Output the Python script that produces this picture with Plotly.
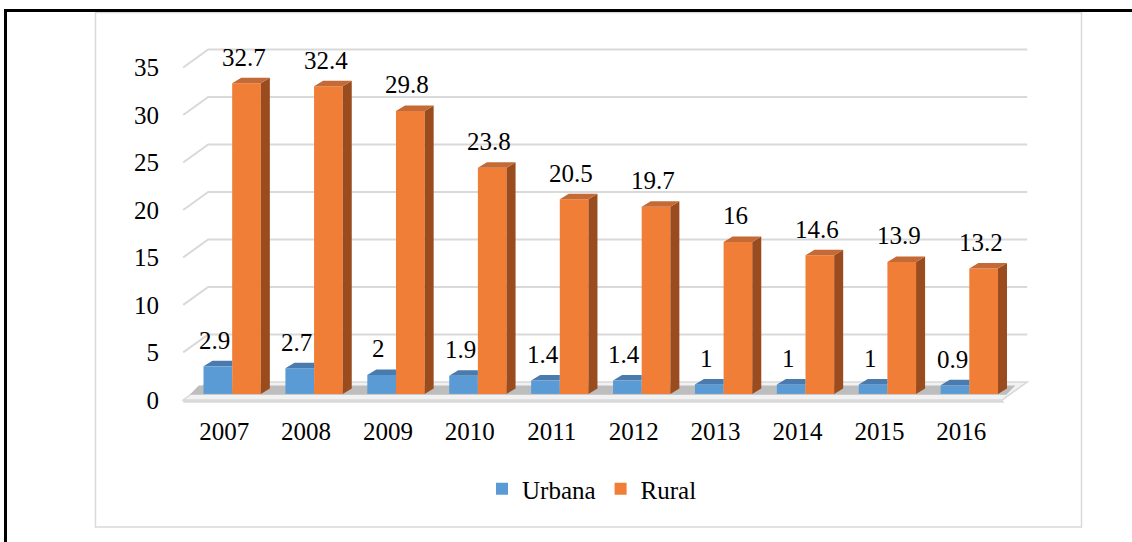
import plotly.graph_objects as go

# ---------------- data ----------------
years = ["2007", "2008", "2009", "2010", "2011", "2012", "2013", "2014", "2015", "2016"]
urbana = [2.9, 2.7, 2.0, 1.9, 1.4, 1.4, 1.0, 1.0, 1.0, 0.9]
rural = [32.7, 32.4, 29.8, 23.8, 20.5, 19.7, 16.0, 14.6, 13.9, 13.2]
y_ticks = [0, 5, 10, 15, 20, 25, 30, 35]
series_names = ["Urbana", "Rural"]

# ---------------- layout geometry (styles) ----------------
W, H = 1132, 542
L, R, T, B = 175, 97, 39, 135
XR = [-0.6, 9.9]
YR = [-0.75, 38]
BAR_W = 0.35
FRONT_DX, BASE = 0.098, 0.63      # bar front plane offset from front wall
DEPTH_DX, DEPTH_DY = 0.11, 0.58   # bar depth
WALL_DX, WALL_DY = 0.305, 1.895   # back wall offset
LABEL_DX = -0.035

FONT = "Liberation Serif"
C_BLUE, C_BLUE_TOP = "#5B9BD5", "#4A7BAF"
C_OR, C_OR_TOP, C_OR_SIDE = "#F17E36", "#C46A36", "#9A4C1F"
C_GRID = "#D9D9D9"

idx = list(range(len(years)))
n = len(years)


def pxx(p):
    return (p - L) / (W - L - R)


def pxy(p):
    return (H - B - p) / (H - T - B)


fig = go.Figure()

# front faces of bars
fig.add_trace(go.Bar(x=idx, y=urbana, base=[BASE] * n, width=BAR_W,
                     offset=FRONT_DX - BAR_W, name=series_names[0],
                     marker=dict(color=C_BLUE, line=dict(width=0))))
fig.add_trace(go.Bar(x=idx, y=rural, base=[BASE] * n, width=BAR_W,
                     offset=FRONT_DX, name=series_names[1],
                     marker=dict(color=C_OR, line=dict(width=0))))

# blue top faces (trimmed where hidden by the orange bar)
bx, by = [], []
for i, v in zip(idx, urbana):
    xl = i + FRONT_DX - BAR_W
    xr = i + FRONT_DX
    t = BASE + v
    bx += [xl, xl + DEPTH_DX, xr, xr, xl, None]
    by += [t, t + DEPTH_DY, t + DEPTH_DY, t, t, None]
fig.add_trace(go.Scatter(x=bx, y=by, mode="lines", fill="toself",
                         fillcolor=C_BLUE_TOP, line=dict(width=0),
                         showlegend=False, hoverinfo="skip"))

# orange side + top faces
sx, sy, tx, ty = [], [], [], []
for i, v in zip(idx, rural):
    xl = i + FRONT_DX
    xr = xl + BAR_W
    t = BASE + v
    sx += [xr, xr + DEPTH_DX, xr + DEPTH_DX, xr, xr, None]
    sy += [BASE, BASE + DEPTH_DY, t + DEPTH_DY, t, BASE, None]
    tx += [xl, xl + DEPTH_DX, xr + DEPTH_DX, xr, xl, None]
    ty += [t, t + DEPTH_DY, t + DEPTH_DY, t, t, None]
fig.add_trace(go.Scatter(x=sx, y=sy, mode="lines", fill="toself",
                         fillcolor=C_OR_SIDE, line=dict(width=0),
                         showlegend=False, hoverinfo="skip"))
fig.add_trace(go.Scatter(x=tx, y=ty, mode="lines", fill="toself",
                         fillcolor=C_OR_TOP, line=dict(width=0),
                         showlegend=False, hoverinfo="skip"))

# data labels
ann = []
for i, u, r in zip(idx, urbana, rural):
    ann.append(dict(x=i + FRONT_DX - BAR_W / 2 + LABEL_DX, y=BASE + u, text=f"{u:g}",
                    showarrow=False, yshift=26, xanchor="center", yanchor="middle",
                    font=dict(family=FONT, size=25, color="#000")))
    ann.append(dict(x=i + FRONT_DX + BAR_W / 2 + LABEL_DX, y=BASE + r, text=f"{r:g}",
                    showarrow=False, yshift=26, xanchor="center", yanchor="middle",
                    font=dict(family=FONT, size=25, color="#000")))

shapes = []
x0, x1 = -0.5, n - 0.5
# floor
shapes.append(dict(type="path", xref="x", yref="y", layer="below",
                   path=f"M{x0},0 L{x1},0 L{x1 + WALL_DX},{WALL_DY} L{x0 + WALL_DX},{WALL_DY} Z",
                   fillcolor="#F2F2F2", line=dict(color=C_GRID, width=1.5)))
# floor front slab
shapes.append(dict(type="path", xref="x", yref="y", layer="below",
                   path=f"M{x0},0 L{x1},0 L{x1 + 0.03},-0.3 L{x0},-0.3 Z",
                   fillcolor=C_GRID, line=dict(width=0)))
# shadow strip under bars
shapes.append(dict(type="path", xref="x", yref="y", layer="below",
                   path=(f"M{x0 + 0.08},{BASE - 0.1} L{x1 + 0.05},{BASE - 0.1} "
                         f"L{x1 + 0.05 + DEPTH_DX},{BASE + DEPTH_DY + 0.3} "
                         f"L{x0 + 0.08 + DEPTH_DX},{BASE + DEPTH_DY + 0.3} Z"),
                   fillcolor="#BDBDBD", line=dict(width=0)))
# gridlines (front diagonal + back horizontal)
for v in y_ticks[1:]:
    shapes.append(dict(type="path", xref="x", yref="y", layer="below",
                       path=f"M{x0},{v} L{x0 + WALL_DX},{v + WALL_DY} L{x1 + WALL_DX},{v + WALL_DY}",
                       line=dict(color=C_GRID, width=2)))

# frames
shapes.append(dict(type="rect", xref="paper", yref="paper",
                   x0=pxx(95.5), x1=pxx(1081.5), y0=pxy(527), y1=pxy(12.5),
                   line=dict(color="#D9D9D9", width=1.5), fillcolor="rgba(0,0,0,0)"))
shapes.append(dict(type="line", xref="paper", yref="paper",
                   x0=pxx(4), x1=pxx(1132), y0=pxy(10.5), y1=pxy(10.5),
                   line=dict(color="#000", width=3)))
shapes.append(dict(type="line", xref="paper", yref="paper",
                   x0=pxx(5.5), x1=pxx(5.5), y0=pxy(9), y1=pxy(542),
                   line=dict(color="#000", width=3)))

fig.update_layout(
    width=W, height=H,
    margin=dict(l=L, r=R, t=T, b=B, pad=0),
    paper_bgcolor="white", plot_bgcolor="white",
    barmode="overlay",
    shapes=shapes, annotations=ann,
    font=dict(family=FONT, size=25, color="#000"),
    showlegend=True,
    legend=dict(orientation="h", x=pxx(592), xanchor="center",
                y=pxy(489), yanchor="middle",
                font=dict(family=FONT, size=25, color="#000"),
                bgcolor="rgba(0,0,0,0)"),
    xaxis=dict(range=XR, tickvals=idx, ticktext=years, showgrid=False,
               zeroline=False, showline=False, ticks="outside", ticklen=2,
               tickcolor="rgba(0,0,0,0)", tickfont=dict(family=FONT, size=25)),
    yaxis=dict(range=YR, tickvals=y_ticks, showgrid=False, zeroline=False,
               showline=False, ticks="outside", ticklen=10,
               tickcolor="rgba(0,0,0,0)", tickfont=dict(family=FONT, size=25)),
)

fig.write_html("out.html", config={"displayModeBar": False},
               post_script="document.body.style.margin='0';document.body.style.overflow='hidden';")
